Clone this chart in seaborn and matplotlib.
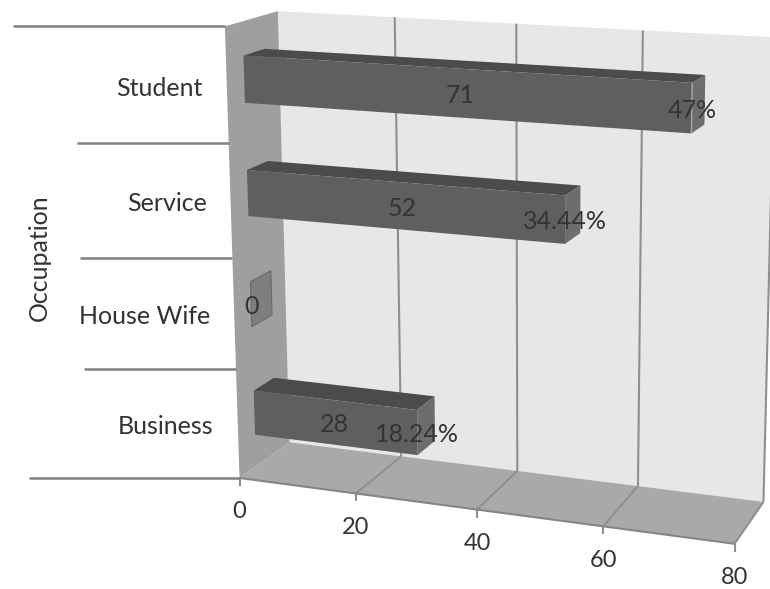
import numpy as np
import matplotlib
matplotlib.use("Agg")
import matplotlib.pyplot as plt
from matplotlib.patches import Polygon
from matplotlib.transforms import Transform
import pandas as pd
import seaborn as sns

# Chart content
occupations = ["Student", "Service", "House Wife", "Business"]
counts = [71, 52, 0, 28]
shares = ["47%", "34.44%", "", "18.24%"]
value_ticks = [0, 20, 40, 60, 80]
axis_title = "Occupation"

# Colours
WALL_BACK = "#e7e7e9"
WALL_SIDE = "#9f9fa1"
FLOOR = "#a9a9ab"
GRID = "#8f8f8f"
FACE_FRONT = "#5f5f61"
FACE_TOP = "#4b4b4d"
FACE_END = "#6d6d6f"
FACE_EMPTY = "#7e7e80"
TEXT = "#333333"

# Camera of the 3D box: pixel positions of known box corners (value, depth, height).
box_refs = [
    (0, 0, 0, 240, 476), (20, 0, 0, 357, 494), (40, 0, 0, 477, 510),
    (60, 0, 0, 603, 527), (80, 0, 0, 735, 543),
    (0, 1, 0, 290, 442), (20, 1, 0, 399, 456), (40, 1, 0, 517, 471),
    (60, 1, 0, 638, 487), (80, 1, 0, 764, 502),
    (0, 1, 1, 278, 12), (20, 1, 1, 395, 17), (40, 1, 1, 518, 23),
    (60, 1, 1, 646, 30), (80, 1, 1, 771, 37),
    (0, 0, 1, 224, 26), (0, 0, 0.75, 228, 144.5),
    (0, 0, 0.5, 232, 258), (0, 0, 0.25, 236, 369),
]


def fit_camera(refs):
    rows = []
    for v, d, h, px, py in refs:
        p = [v / 80, d, h, 1]
        rows.append(p + [0, 0, 0, 0] + [-px * c for c in p])
        rows.append([0, 0, 0, 0] + p + [-py * c for c in p])
    return np.linalg.svd(np.array(rows))[2][-1].reshape(3, 4)


CAMERA = fit_camera(box_refs)


def project(v, d, h):
    v, d, h = np.broadcast_arrays(np.asarray(v, float), d, h)
    pts = np.stack([v / 80, d, h, np.ones_like(v, dtype=float)], axis=-1)
    out = pts @ CAMERA.T
    return out[..., :2] / out[..., 2:]


def height_of(slot):
    return (3.5 - np.asarray(slot, float)) / 4


class BarPlane(Transform):
    """Maps (value, category slot) onto a vertical plane at a fixed depth of the box."""
    input_dims = 2
    output_dims = 2
    is_separable = False
    has_inverse = False

    def __init__(self, plane_depth):
        super().__init__()
        self.plane_depth = plane_depth

    def transform_non_affine(self, values):
        values = np.asarray(values, float)
        return project(values[:, 0], self.plane_depth, height_of(values[:, 1]))


BAR_NEAR, BAR_FAR = 0.32, 0.72
BAR_THICK = 0.41
FONT_SIZE = 18
TICK_FONT_SIZE = 17

sns.set_style("white")
plt.rcParams["font.family"] = ["Lato", "DejaVu Sans"]

fig = plt.figure(figsize=(7.7, 5.89), dpi=100)
ax = fig.add_axes([0, 0, 1, 1])

frame = pd.DataFrame({"occupation": occupations, "count": counts})
sns.barplot(data=frame, y="occupation", x="count", orient="h", width=BAR_THICK,
            color=FACE_FRONT, saturation=1, linewidth=0, edgecolor="none",
            ax=ax, order=occupations)
bars = list(ax.patches)

ax.set_xlim(0, 770)
ax.set_ylim(589, 0)
ax.set_autoscale_on(False)
ax.axis("off")


def face(points, color, z, **kw):
    ax.add_patch(Polygon(np.asarray(points), closed=True, facecolor=color,
                         edgecolor=kw.pop("edge", "none"), linewidth=kw.pop("lw", 0),
                         zorder=z, clip_on=False, **kw))


def segment(a, b, color=GRID, lw=1.5, z=2):
    ax.plot([a[0], b[0]], [a[1], b[1]], color=color, lw=lw, zorder=z,
            solid_capstyle="butt", clip_on=False)


# Box walls and floor
vmax = value_ticks[-1]
face([project(0, 1, 0), project(vmax, 1, 0), project(vmax, 1, 1), project(0, 1, 1)], WALL_BACK, 1)
face([project(0, 0, 0), project(0, 1, 0), project(0, 1, 1), project(0, 0, 1)], WALL_SIDE, 1.2)
face([project(0, 0, 0), project(vmax, 0, 0), project(vmax, 1, 0), project(0, 1, 0)], FLOOR, 1.1)

# Gridlines, ticks and value-axis labels
for tick in value_ticks:
    if tick:
        segment(project(tick, 1, 0), project(tick, 1, 1))
        segment(project(tick, 0, 0), project(tick, 1, 0))
    foot = project(tick, 0, 0)
    segment(foot, foot + [0, 8])
    ax.text(foot[0], foot[1] + 34, str(tick), ha="center", va="center",
            fontsize=TICK_FONT_SIZE, color=TEXT, zorder=6)
segment(project(0, 0, 0), project(vmax, 0, 0), color="#858585", lw=1.5, z=2.5)

# Category separators reaching out from the side wall
for edge, reach in zip([1, 0.75, 0.5, 0.25, 0], [212, 152, 152, 152, 211]):
    end = project(0, 0, edge)
    segment(end - [reach, 0], end, color="#808080", lw=1.8, z=2.5)

# Bars: the front faces come from seaborn, top and end faces extend them in depth
for slot, (bar, count) in enumerate(zip(bars, counts)):
    low, high = slot - BAR_THICK / 2, slot + BAR_THICK / 2
    h_top, h_bot = height_of(low), height_of(high)
    if count == 0:
        bar.set_visible(False)
        face([project(0, BAR_NEAR, h_bot), project(0, BAR_FAR, h_bot),
              project(0, BAR_FAR, h_top), project(0, BAR_NEAR, h_top)], FACE_EMPTY, 3,
             edge="#6a6a6a", lw=0.8)
    else:
        bar.set_transform(BarPlane(BAR_NEAR) + ax.transData)
        bar.set_zorder(3.2)
        bar.set_clip_on(False)
        face([project(0, BAR_NEAR, h_top), project(count, BAR_NEAR, h_top),
              project(count, BAR_FAR, h_top), project(0, BAR_FAR, h_top)], FACE_TOP, 3)
        face([project(count, BAR_NEAR, h_bot), project(count, BAR_FAR, h_bot),
              project(count, BAR_FAR, h_top), project(count, BAR_NEAR, h_top)], FACE_END, 3.1)
        if count == max(counts):
            # Light rim where the longest bar's front meets its end face
            segment(project(count, BAR_NEAR, h_bot), project(count, BAR_NEAR, h_top),
                    color="#a8a8a8", lw=1, z=3.3)

    # Data labels
    mid = height_of(slot)
    spot = project(count / 2, BAR_NEAR, mid)
    ax.text(spot[0], spot[1] + 2, str(count), ha="center", va="center",
            fontsize=FONT_SIZE, color=TEXT, zorder=6)
    if shares[slot]:
        tip = project(count, BAR_NEAR, mid)
        ax.text(tip[0], tip[1] + 2, shares[slot], ha="center", va="center",
                fontsize=FONT_SIZE, color=TEXT, zorder=6)

# Category labels and axis title
for slot, name in enumerate(occupations):
    anchor = project(0, 0, height_of(slot))
    ax.text(anchor[0] - 24, anchor[1] + 3, name, ha="right", va="center",
            fontsize=FONT_SIZE, color=TEXT, zorder=6)
ax.text(39, 258, axis_title, rotation=90, ha="center", va="center",
        fontsize=FONT_SIZE, color=TEXT, zorder=6)

fig.savefig("out.png", dpi=100, facecolor="white")
